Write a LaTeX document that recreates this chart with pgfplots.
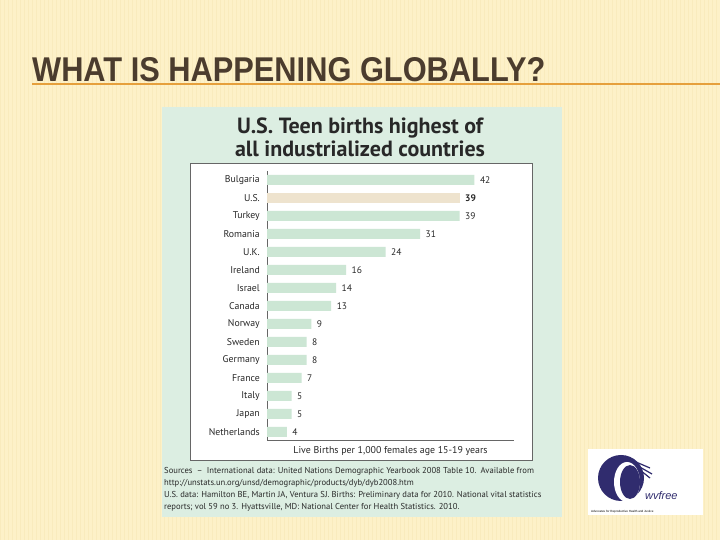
\documentclass[border=0pt]{standalone}
\usepackage{pgfplots}
\pgfplotsset{compat=1.18}
\usepackage{fontspec}
\setmainfont{Liberation Sans}
\newfontfamily\chartfont{PT Sans}
\definecolor{bgcream}{RGB}{253,241,200}
\definecolor{stripe}{RGB}{246,230,180}
\definecolor{titlecol}{RGB}{75,60,46}
\definecolor{linecol}{RGB}{230,160,60}
\definecolor{panel}{RGB}{220,238,226}
\definecolor{bargreen}{RGB}{204,230,212}
\definecolor{barus}{RGB}{238,227,206}
\definecolor{txt}{RGB}{40,40,40}
\definecolor{logoblue}{RGB}{48,44,110}
\begin{document}
\begin{tikzpicture}
\path[use as bounding box, fill=bgcream] (0pt,0pt) rectangle (720pt,540pt);
\foreach \i in {0,4,...,716} {\draw[stripe, line width=0.6pt, opacity=0.5] (\i pt,0pt) -- (\i pt,540pt);}
\node[anchor=base west, inner sep=0pt, text=titlecol] at (32pt,458pt) {\resizebox{513pt}{24pt}{\bfseries WHAT IS HAPPENING GLOBALLY?}};
\draw[linecol, line width=1.8pt] (32pt,456pt) -- (720pt,456pt);
% chart panel
\fill[panel] (162pt,23pt) rectangle (562pt,433pt);
\filldraw[fill=white, draw=black!60, line width=0.6pt] (190pt,80pt) rectangle (532pt,377pt);
\node[font=\chartfont\bfseries\fontsize{22}{22}\selectfont, text=txt, anchor=base] at (360pt,406pt) {U.S. Teen births highest of};
\node[font=\chartfont\bfseries\fontsize{22}{22}\selectfont, text=txt, anchor=base] at (360pt,383pt) {all industrialized countries};
\begin{axis}[at={(267pt,100pt)}, anchor=south west, scale only axis,
  width=247pt, height=269pt,
  xbar, bar width=10pt, bar shift=0pt,
  xmin=0, xmax=50, ymin=-0.45, ymax=14.5,
  axis x line*=bottom, axis y line*=left,
  axis line style={-, draw=black!60, line width=0.6pt},
  xtick=\empty, ytick={0,...,14},
  yticklabels={Netherlands,Japan,Italy,France,Germany,Sweden,Norway,Canada,Israel,Ireland,U.K.,Romania,Turkey,U.S.,Bulgaria},
  major tick length=0pt,
  yticklabel style={font=\chartfont\fontsize{9.8}{10}\selectfont, text=txt, inner sep=2pt, xshift=-5pt},
  nodes near coords,
  nodes near coords style={font=\chartfont\fontsize{9.5}{10}\selectfont, text=txt, anchor=west, xshift=2pt},
  /pgf/number format/assume math mode=true,
  xlabel={Live Births per 1,000 females age 15-19 years},
  xlabel style={font=\chartfont\fontsize{9.9}{10}\selectfont, text=txt, at={(axis description cs:0.5,0)}, anchor=north, yshift=-3pt},
  clip=false]
\addplot[fill=bargreen, draw=none, bar shift=0pt] coordinates {(4,0) (5,1) (5,2) (7,3) (8,4) (8,5) (9,6) (13,7) (14,8) (16,9) (24,10) (31,11) (39,12) (42,14)};
\addplot[fill=barus, draw=none, bar shift=0pt, nodes near coords style={font=\chartfont\bfseries\fontsize{9.5}{10}\selectfont}] coordinates {(39,13)};
\end{axis}
% sources
\tikzset{src/.style={anchor=base west, inner sep=0pt, font=\chartfont\fontsize{8.6}{9}\selectfont, text=txt}}
\node[src] at (164pt,66pt) {Sources\enspace–\enspace International data: United Nations Demographic Yearbook 2008 Table 10.\enspace Available from};
\node[src] at (164pt,54pt) {http://unstats.un.org/unsd/demographic/products/dyb/dyb2008.htm};
\node[src] at (164pt,42pt) {U.S. data: Hamilton BE, Martin JA, Ventura SJ. Births: Preliminary data for 2010. National vital statistics};
\node[src] at (164pt,30pt) {reports; vol 59 no 3. Hyattsville, MD: National Center for Health Statistics. 2010.};
% logo
\fill[white] (588pt,25pt) rectangle (703pt,91pt);
\fill[logoblue] (621pt,62pt) circle (23pt);
\fill[white] (627pt,58pt) ellipse (13pt and 20pt);
\fill[logoblue] (630pt,58pt) ellipse (10pt and 17pt);
\fill[white] (640pt,38pt) rectangle (660pt,48pt);
\draw[logoblue, line width=1.2pt] (636pt,78pt) -- (650pt,72pt) (638pt,74pt) -- (652pt,66pt) (640pt,70pt) -- (650pt,62pt);
\node[anchor=base west, inner sep=0pt, font=\itshape\fontsize{11}{11}\selectfont, text=logoblue] at (645pt,40pt) {wvfree};
\node[anchor=base west, inner sep=0pt, font=\fontsize{3}{3}\selectfont, text=black] at (591pt,27pt) {Advocates for Reproductive Health and Justice};
\end{tikzpicture}
\end{document}
